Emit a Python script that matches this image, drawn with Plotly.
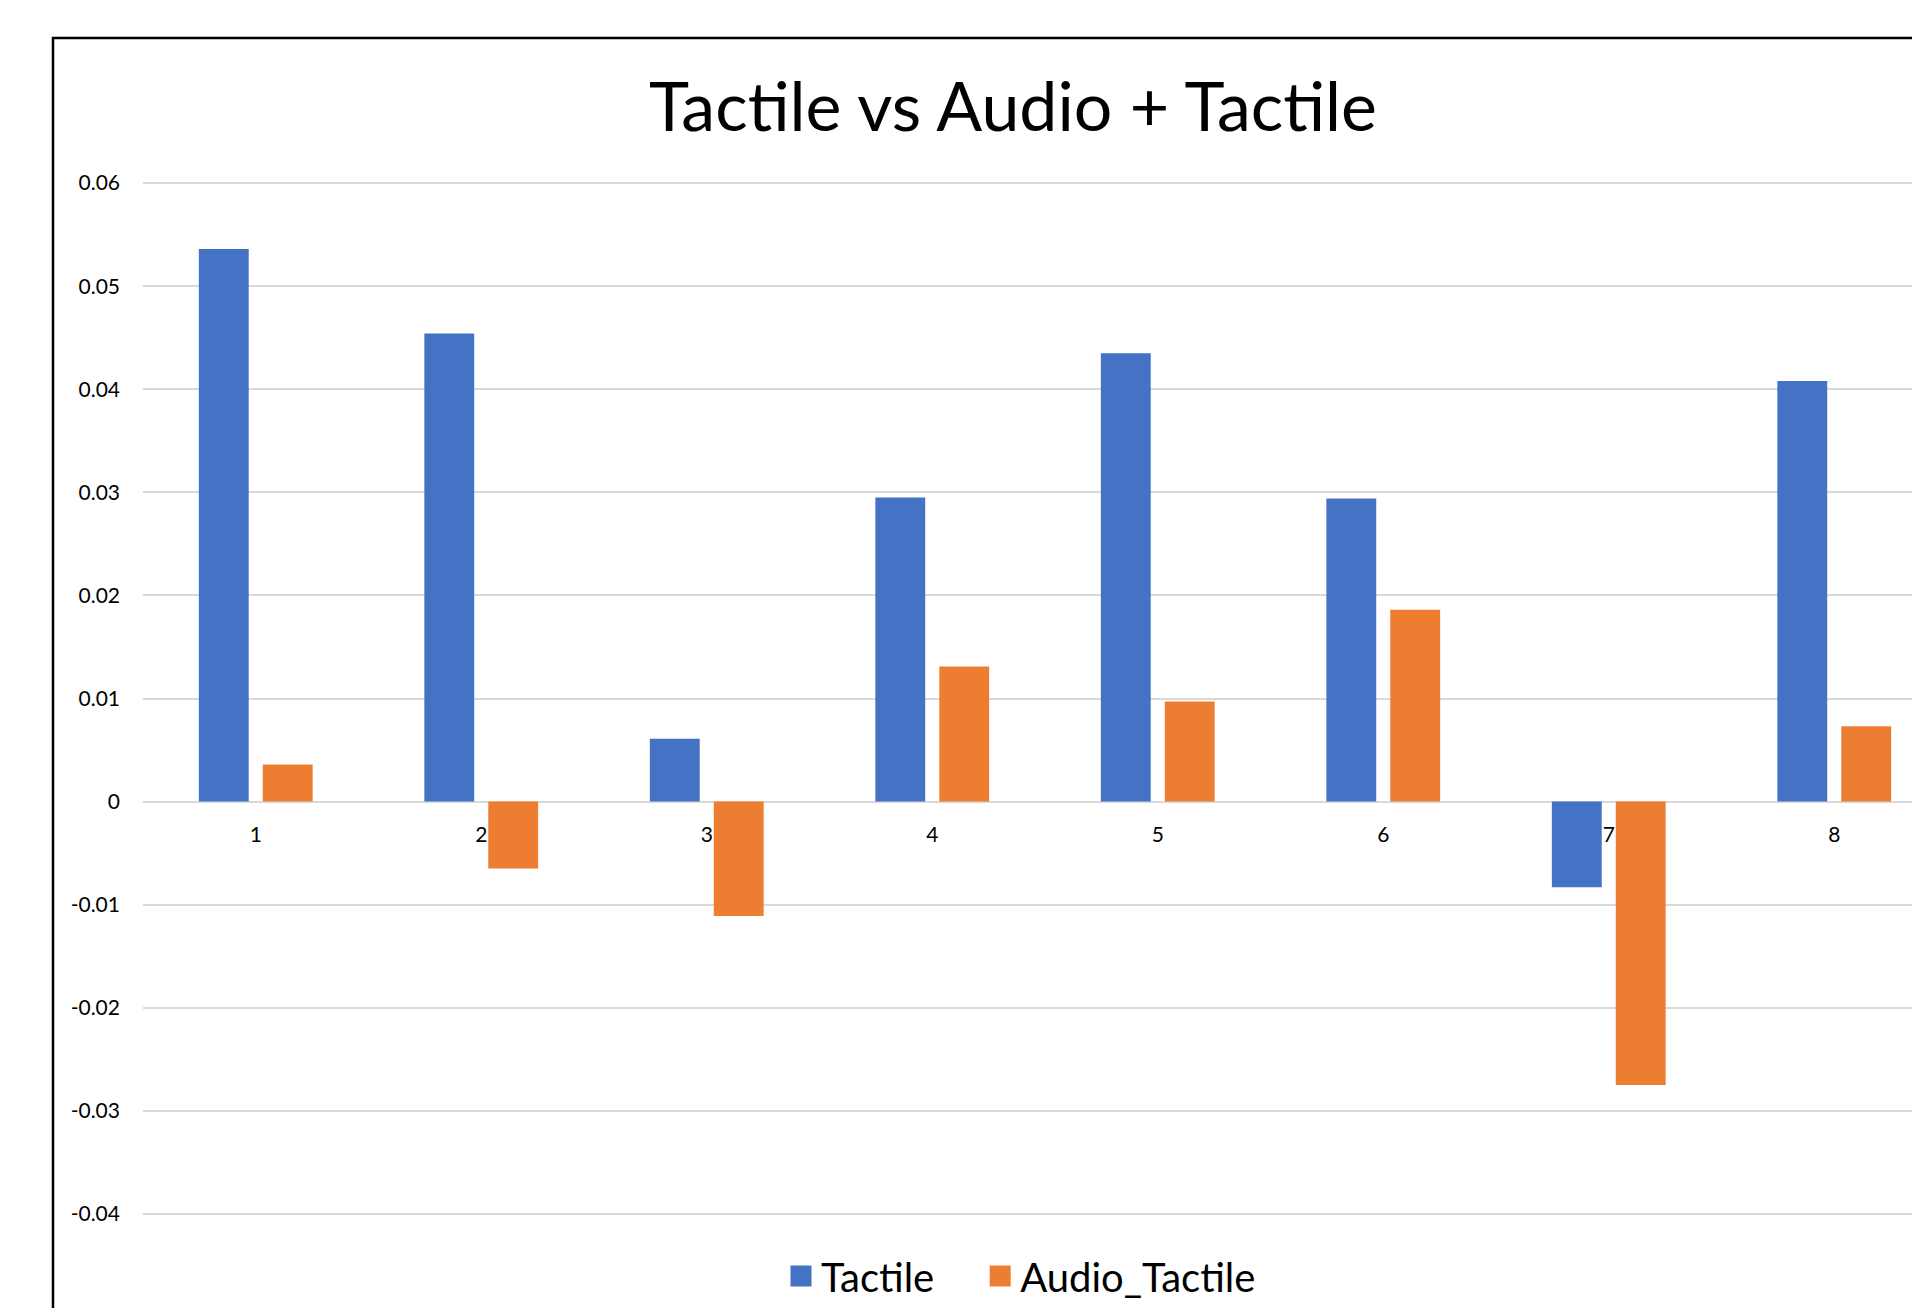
import plotly.graph_objects as go

categories = [1, 2, 3, 4, 5, 6, 7, 8]
tactile = [0.0536, 0.0454, 0.0061, 0.0295, 0.0435, 0.0294, -0.0083, 0.0408]
audio_tactile = [0.0036, -0.0065, -0.0111, 0.0131, 0.0097, 0.0186, -0.0275, 0.0073]
y_ticks = [0.06, 0.05, 0.04, 0.03, 0.02, 0.01, 0, -0.01, -0.02, -0.03, -0.04]
y_tick_text = ["0.06", "0.05", "0.04", "0.03", "0.02", "0.01", "0", "-0.01", "-0.02", "-0.03", "-0.04"]

W, H = 1912, 1308
L, R, T, B = 143, 0, 181, 92
PW, PH = W - L - R, H - T - B
cat_px = 225.5
pad = 0.0002
y_min, y_max = -0.04 - pad, 0.06 + pad

def px_x(p):
    return (p - L) / PW

def px_y(p):
    return (H - B - p) / PH

FONT = "Lato, Carlito, Calibri, sans-serif"
BLUE = "#4472C4"
ORANGE = "#ED7D31"
GAP = "\u00a0" * 4

fig = go.Figure()
fig.add_trace(go.Bar(x=categories, y=tactile, name="Tactile",
                     marker=dict(color=BLUE, line=dict(width=0)), showlegend=False))
fig.add_trace(go.Bar(x=categories, y=audio_tactile, name="Audio_Tactile",
                     marker=dict(color=ORANGE, line=dict(width=0)), showlegend=False))
# legend entries
fig.add_trace(go.Scatter(x=[None], y=[None], mode="markers", name="Tactile" + GAP,
                         marker=dict(symbol="square", size=24, color=BLUE,
                                     line=dict(color=BLUE, width=6))))
fig.add_trace(go.Scatter(x=[None], y=[None], mode="markers", name="Audio_Tactile",
                         marker=dict(symbol="square", size=24, color=ORANGE,
                                     line=dict(color=ORANGE, width=6))))

fig.update_layout(
    width=W, height=H,
    margin=dict(l=L, r=R, t=T, b=B, autoexpand=False),
    paper_bgcolor="white", plot_bgcolor="white",
    barmode="group", bargap=0.433, bargroupgap=0.22,
    font=dict(family=FONT, color="black"),
    title=dict(text="Tactile vs Audio + Tactile", x=1013 / W, xanchor="center",
               y=1 - 107 / H, yanchor="middle", yref="container",
               font=dict(size=68, family=FONT, color="black")),
    showlegend=True,
    legend=dict(orientation="h", x=px_x(1021), xanchor="center",
                y=px_y(1276), yanchor="middle",
                font=dict(size=40, family=FONT, color="black"),
                bgcolor="rgba(0,0,0,0)", itemclick=False),
    xaxis=dict(range=[0.5, 0.5 + PW / cat_px], tickvals=categories,
               ticktext=[str(c) for c in categories],
               anchor="free", position=(0 - y_min) / (y_max - y_min),
               showline=False, showgrid=False, zeroline=False, ticks="",
               ticklabelstandoff=18,
               tickfont=dict(size=21, family=FONT, color="black")),
    yaxis=dict(range=[y_min, y_max], tickvals=y_ticks, ticktext=y_tick_text,
               showgrid=True, gridcolor="#D9D9D9", gridwidth=2,
               zeroline=True, zerolinecolor="#D9D9D9", zerolinewidth=2,
               showline=False, ticks="", ticklabelstandoff=22,
               tickfont=dict(size=21, family=FONT, color="black")),
    shapes=[dict(type="rect", xref="paper", yref="paper",
                 x0=px_x(53), x1=px_x(1975), y0=px_y(38), y1=px_y(1340),
                 line=dict(color="black", width=2.5), fillcolor="rgba(0,0,0,0)",
                 layer="above")],
)

fig.write_html("out.html")
